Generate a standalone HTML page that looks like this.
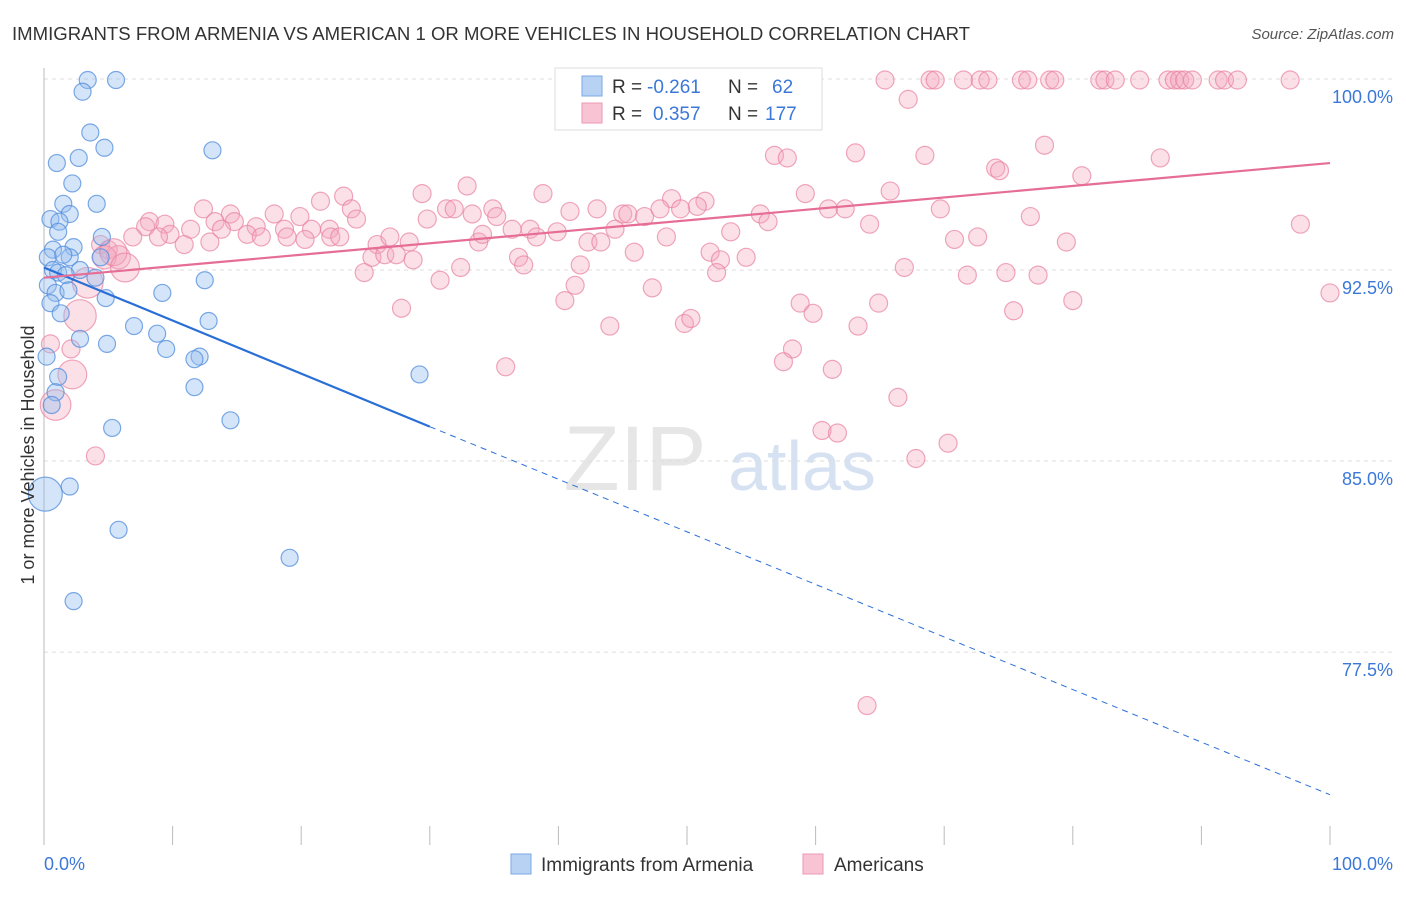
<!DOCTYPE html>
<html><head><meta charset="utf-8">
<style>
body{margin:0;background:#fff;font-family:"Liberation Sans",sans-serif;}
svg text{font-family:"Liberation Sans",sans-serif;}
</style></head>
<body>
<svg id="chart" width="1406" height="892" xmlns="http://www.w3.org/2000/svg">
<text x="12" y="40" font-size="18" textLength="958" lengthAdjust="spacingAndGlyphs" fill="#333">IMMIGRANTS FROM ARMENIA VS AMERICAN 1 OR MORE VEHICLES IN HOUSEHOLD CORRELATION CHART</text>
<text x="1394" y="39" font-size="15" fill="#555" font-style="italic" text-anchor="end">Source: ZipAtlas.com</text>
<g>
<text x="635" y="490" font-size="92" fill="#e6e6e6" font-family="Liberation Serif" text-anchor="middle">ZIP</text>
<text x="802" y="490" font-size="70" fill="#d6e2f2" text-anchor="middle">atlas</text>
</g>
<g id="grid"></g>
<g id="axes"></g>
<g id="pinkPts"></g>
<g id="bluePts"></g>
<g id="lines"></g>
<g>
<rect x="555" y="68" width="267" height="62" fill="#fff" stroke="#ddd"/>
<rect x="582" y="76" width="20" height="20" fill="#b8d2f4" stroke="#7aa8e4"/>
<rect x="582" y="103" width="20" height="20" fill="#f8c4d4" stroke="#ec9ab4"/>
<text x="612" y="93" font-size="19" fill="#333">R =</text>
<text x="647" y="93" font-size="19" fill="#3b78d8">-0.261</text>
<text x="728" y="93" font-size="19" fill="#333">N =</text>
<text x="772" y="93" font-size="19" fill="#3b78d8">62</text>
<text x="612" y="120" font-size="19" fill="#333">R =</text>
<text x="653" y="120" font-size="19" fill="#3b78d8">0.357</text>
<text x="728" y="120" font-size="19" fill="#333">N =</text>
<text x="765" y="120" font-size="19" fill="#3b78d8">177</text>
</g>
<g>
<rect x="511" y="854" width="20" height="20" fill="#b8d2f4" stroke="#7aa8e4"/>
<text x="541" y="871" font-size="19" fill="#333">Immigrants from Armenia</text>
<rect x="803" y="854" width="20" height="20" fill="#f8c4d4" stroke="#ec9ab4"/>
<text x="834" y="871" font-size="19" fill="#333">Americans</text>
</g>
<text transform="translate(34,455) rotate(-90)" font-size="18" fill="#333" text-anchor="middle">1 or more Vehicles in Household</text>
</svg>
<script>
const yTicks=[100,92.5,85,77.5];
const yTickLabels=["100.0%","92.5%","85.0%","77.5%"];
const xEndLabels=["0.0%","100.0%"];
const blueX=[5.6,3.4,3.0,3.6,4.7,13.1,1.0,2.7,2.2,4.1,1.5,2.0,0.5,1.2,1.1,4.5,0.7,2.3,4.4,0.3,2.0,1.5,0.7,1.1,2.8,1.7,12.5,4.0,0.3,0.9,1.9,9.2,4.8,0.5,1.3,12.8,7.0,8.8,2.8,4.9,9.5,12.1,11.7,0.2,1.1,11.7,29.2,0.9,0.6,14.5,5.3,2.0,0.1,5.8,19.1,2.3];
const blueY=[99.96,99.96,99.5,97.9,97.3,97.2,96.7,96.9,95.9,95.1,95.1,94.7,94.5,94.4,94.0,93.8,93.3,93.4,93.0,93.0,93.0,93.1,92.5,92.4,92.5,92.3,92.1,92.2,91.9,91.6,91.7,91.6,91.4,91.2,90.8,90.5,90.3,90.0,89.8,89.6,89.4,89.1,89.0,89.1,88.3,87.9,88.4,87.7,87.2,86.6,86.3,84.0,83.7,82.3,81.2,79.5];
const blueSize=[1,1,1,1,1,1,1,1,1,1,1,1,1,1,1,1,1,1,1,1,1,1,1,1,1,1,1,1,1,1,1,1,1,1,1,1,1,1,1,1,1,1,1,1,1,1,1,1,1,1,1,1,2,1,1,1];
const pinkX=[65.4,68.9,69.3,71.5,72.8,73.4,76.0,76.5,78.2,78.6,82.1,82.5,83.3,85.2,87.4,87.9,88.3,88.7,89.3,91.3,91.8,92.8,96.9,
67.2,55.4,54.4,56.8,57.8,63.1,68.5,77.8,86.8,74.0,74.3,80.7,32.9,38.8,29.4,23.3,21.5,59.2,65.8,48.8,51.4,50.8,12.4,23.9,31.3,31.9,34.9,40.9,43.0,45.0,45.4,47.9,49.5,61.0,62.3,69.7,76.7,97.7,14.5,17.9,19.9,24.3,29.8,33.3,35.2,46.7,55.7,56.3,64.2,8.2,7.9,9.4,11.4,13.3,14.8,16.5,18.7,20.8,22.2,15.8,16.9,9.8,6.9,8.9,10.9,12.9,13.8,18.9,20.3,22.3,23.0,25.9,26.9,28.4,33.8,34.1,36.4,37.8,38.3,39.9,42.3,43.3,44.4,48.4,53.4,70.8,72.6,79.5,4.4,5.0,5.8,4.7,5.4,6.3,3.4,2.8,2.2,2.1,0.5,0.9,4.0,25.5,26.5,27.4,28.7,24.9,30.8,32.4,36.9,37.3,41.7,45.9,51.8,52.6,54.6,52.3,41.3,40.5,47.3,66.9,71.8,74.8,77.3,58.8,59.8,64.9,80.0,75.4,100,27.8,44.0,49.8,50.3,63.3,58.2,57.5,35.9,61.3,66.4,60.5,61.7,70.3,67.8,64.0];
const pinkY=[99.96,99.96,99.96,99.96,99.96,99.96,99.96,99.96,99.96,99.96,99.96,99.96,99.96,99.96,99.96,99.96,99.96,99.96,99.96,99.96,99.96,99.96,99.96,
99.2,99.3,98.4,97.0,96.9,97.1,97.0,97.4,96.9,96.5,96.4,96.2,95.8,95.5,95.5,95.4,95.2,95.5,95.6,95.3,95.2,95.0,94.9,94.9,94.9,94.9,94.9,94.8,94.9,94.7,94.7,94.9,94.9,94.9,94.9,94.9,94.6,94.3,94.7,94.7,94.6,94.5,94.5,94.7,94.6,94.6,94.7,94.4,94.3,94.4,94.2,94.3,94.1,94.4,94.4,94.2,94.1,94.1,94.1,93.9,93.8,93.9,93.8,93.8,93.5,93.6,94.1,93.8,93.7,93.8,93.8,93.5,93.8,93.6,93.6,93.9,94.1,94.1,93.8,94.0,93.6,93.6,94.1,93.8,94.0,93.7,93.8,93.6,93.5,93.3,93.0,93.0,93.2,92.6,92.0,90.7,88.4,89.4,89.6,87.2,85.2,93.0,93.1,93.1,92.9,92.4,92.1,92.6,93.0,92.7,92.7,93.2,93.2,92.9,93.0,92.4,91.9,91.3,91.8,92.6,92.3,92.4,92.3,91.2,90.8,91.2,91.3,90.9,91.6,91.0,90.3,90.4,90.6,90.3,89.4,88.9,88.7,88.6,87.5,86.2,86.1,85.7,85.1,75.4];
const pinkBig={113:1.3,114:1.3,115:1.5,116:1.6,117:1.7,118:1.8,119:1.6,122:1.7};
const blueTrend=[[0,92.6],[30,86.35],[100,71.9]];
const pinkTrend=[[0,92.2],[100,96.7]];

const NS="http://www.w3.org/2000/svg";
const X0=44,X1=1330,Y100=79,PXPER=25.47;
const sx=v=>X0+(X1-X0)*v/100;
const sy=v=>Y100+(100-v)*PXPER;
function mk(tag,attrs,parent){const e=document.createElementNS(NS,tag);for(const k in attrs)e.setAttribute(k,attrs[k]);parent.appendChild(e);return e;}
const grid=document.getElementById('grid'),axes=document.getElementById('axes');
yTicks.forEach((t,i)=>{
  const l=mk('line',{x1:X0,x2:1394,y1:sy(t),y2:sy(t),stroke:'#ddd','stroke-dasharray':'4,4'},grid);
  
  
  const tx=mk('text',{x:1393,y:sy(t)+24,'font-size':18,fill:'#3b78d8','text-anchor':'end'},axes);
  tx.textContent=yTickLabels[i];
  
  
});
const ya=mk('line',{x1:X0,x2:X0,y1:68,y2:845,stroke:'#bbb'},axes);


for(let i=0;i<=10;i++){
  const t=mk('line',{x1:sx(i*10),x2:sx(i*10),y1:826,y2:845,stroke:'#bbb'},axes);
  
  
}
const xl0=mk('text',{x:44,y:870,'font-size':18,fill:'#3b78d8'},axes);xl0.textContent=xEndLabels[0];


const xl1=mk('text',{x:1393,y:870,'font-size':18,fill:'#3b78d8','text-anchor':'end'},axes);xl1.textContent=xEndLabels[1];



const pg=document.getElementById('pinkPts');
pinkX.forEach((x,i)=>{
  const r=9*(pinkBig[i]||1);
  const c=mk('circle',{cx:sx(x),cy:sy(pinkY[i]),r:r,fill:'rgba(244,166,190,0.35)',stroke:'rgba(232,130,160,0.7)','stroke-width':1.2},pg);
  
  
});
const bg=document.getElementById('bluePts');
blueX.forEach((x,i)=>{
  const c=mk('circle',{cx:sx(x),cy:sy(blueY[i]),r:8.5*blueSize[i],fill:'rgba(150,190,240,0.4)',stroke:'rgba(80,140,220,0.75)','stroke-width':1.2},bg);
  
  
});
const lg=document.getElementById('lines');
const b1=mk('line',{x1:sx(blueTrend[0][0]),y1:sy(blueTrend[0][1]),x2:sx(blueTrend[1][0]),y2:sy(blueTrend[1][1]),stroke:'#2a6fd6','stroke-width':2.2},lg);


const b2=mk('line',{x1:sx(blueTrend[1][0]),y1:sy(blueTrend[1][1]),x2:sx(blueTrend[2][0]),y2:sy(blueTrend[2][1]),stroke:'#2a6fd6','stroke-width':1,'stroke-dasharray':'6,5'},lg);


const p1=mk('line',{x1:sx(pinkTrend[0][0]),y1:sy(pinkTrend[0][1]),x2:sx(pinkTrend[1][0]),y2:sy(pinkTrend[1][1]),stroke:'#e56d96','stroke-width':2.2},lg);


</script>
</body></html>
